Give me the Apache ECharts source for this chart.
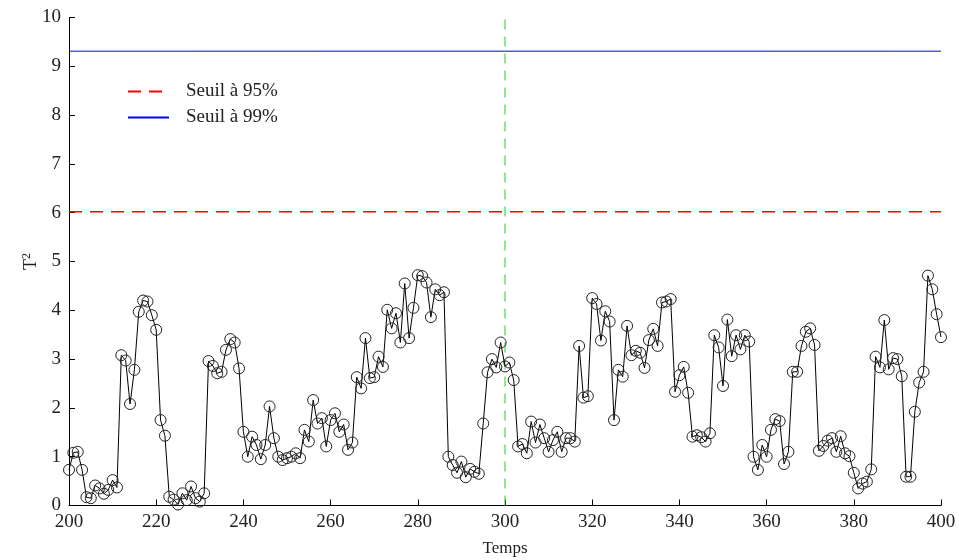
<!DOCTYPE html>
<html>
<head>
<meta charset="utf-8">
<script src="https://cdn.jsdelivr.net/npm/echarts@6/dist/echarts.min.js"></script>
<style>
html,body{margin:0;padding:0;background:#fff;}
#chart{width:959px;height:560px;}
</style>
</head>
<body>
<div id="chart"></div>
<script>
// Sample indices start at 200, one sample per unit of time
const firstSample = 200;
const t2Values = [
  0.73, 1.08, 1.10, 0.73, 0.17, 0.15, 0.41, 0.35, 0.24, 0.32,
  0.52, 0.37, 3.08, 2.97, 2.08, 2.78, 3.97, 4.20, 4.18, 3.90,
  3.60, 1.75, 1.43, 0.18, 0.12, 0.02, 0.25, 0.11, 0.39, 0.15,
  0.08, 0.25, 2.96, 2.86, 2.71, 2.74, 3.19, 3.41, 3.34, 2.81,
  1.51, 1.00, 1.41, 1.24, 0.95, 1.24, 2.03, 1.38, 1.00, 0.93,
  0.97, 1.00, 1.07, 0.97, 1.55, 1.31, 2.16, 1.68, 1.79, 1.21,
  1.75, 1.89, 1.51, 1.66, 1.14, 1.29, 2.63, 2.40, 3.43, 2.61,
  2.63, 3.05, 2.84, 4.01, 3.63, 3.94, 3.34, 4.55, 3.43, 4.05,
  4.72, 4.70, 4.57, 3.86, 4.43, 4.31, 4.37, 1.00, 0.83, 0.67,
  0.90, 0.58, 0.75, 0.69, 0.65, 1.68, 2.73, 3.00, 2.83, 3.34,
  2.85, 2.93, 2.57, 1.21, 1.26, 1.07, 1.72, 1.29, 1.66, 1.38,
  1.10, 1.34, 1.51, 1.10, 1.38, 1.38, 1.31, 3.27, 2.21, 2.24,
  4.25, 4.13, 3.38, 3.98, 3.77, 1.75, 2.78, 2.64, 3.68, 3.08,
  3.17, 3.13, 2.82, 3.39, 3.62, 3.27, 4.16, 4.18, 4.23, 2.33,
  2.67, 2.84, 2.31, 1.41, 1.44, 1.40, 1.31, 1.48, 3.49, 3.24,
  2.45, 3.81, 3.06, 3.49, 3.20, 3.49, 3.36, 1.00, 0.73, 1.24,
  1.00, 1.55, 1.77, 1.73, 0.85, 1.10, 2.74, 2.74, 3.27, 3.56,
  3.63, 3.29, 1.12, 1.22, 1.33, 1.38, 1.10, 1.42, 1.07, 1.01,
  0.67, 0.35, 0.45, 0.49, 0.74, 3.05, 2.83, 3.80, 2.79, 3.02,
  3.00, 2.65, 0.59, 0.59, 1.92, 2.52, 2.74, 4.71, 4.43, 3.92,
  3.45
];
const xRange = [200, 400];
const yRange = [0, 10];
const seuil95 = 6.02;
const seuil99 = 9.31;
const changePoint = 300;
const legendNames = ['Seuil à 95%', 'Seuil à 99%'];
const xTitle = 'Temps';

const fontFam = '"Liberation Serif", "DejaVu Serif", serif';
const chart = echarts.init(document.getElementById('chart'));
const t2Data = t2Values.map((v, i) => [firstSample + i, v]);

chart.setOption({
  animation: false,
  backgroundColor: '#ffffff',
  grid: { left: 69, right: 18, top: 17.5, bottom: 54.5, containLabel: false, outerBoundsMode: 'none' },
  legend: {
    data: legendNames,
    orient: 'vertical',
    left: 122,
    top: 77,
    itemWidth: 41,
    itemHeight: 14,
    itemGap: 7,
    itemStyle: { opacity: 0 },
    textStyle: { fontFamily: fontFam, fontSize: 19, color: '#222', padding: [0, 0, 0, 12] }
  },
  xAxis: {
    type: 'value',
    min: xRange[0], max: xRange[1], interval: 20,
    name: xTitle,
    nameLocation: 'middle',
    nameGap: 35,
    nameMoveOverlap: false,
    nameTextStyle: { fontFamily: fontFam, fontSize: 17, color: '#222' },
    axisLine: { lineStyle: { color: '#000', width: 1 } },
    axisTick: { inside: true, length: 6, lineStyle: { color: '#000' } },
    axisLabel: { fontFamily: fontFam, fontSize: 19, color: '#222', margin: 7 },
    splitLine: { show: false }
  },
  yAxis: {
    type: 'value',
    min: yRange[0], max: yRange[1], interval: 1,
    name: 'T{sup|2}',
    nameLocation: 'middle',
    nameGap: 28,
    nameMoveOverlap: false,
    nameRotate: 90,
    nameTextStyle: {
      fontFamily: fontFam, fontSize: 18, color: '#222',
      rich: { sup: { fontFamily: fontFam, fontSize: 12, color: '#222', verticalAlign: 'top', padding: [0, 0, 8, 0] } }
    },
    axisLine: { show: true, lineStyle: { color: '#000', width: 1 } },
    axisTick: { show: true, inside: true, length: 6, lineStyle: { color: '#000' } },
    axisLabel: { fontFamily: fontFam, fontSize: 19, color: '#222', margin: 8 },
    splitLine: { show: false }
  },
  series: [
    {
      name: legendNames[0],
      type: 'line',
      symbol: 'none',
      data: [[xRange[0], seuil95], [xRange[1], seuil95]],
      lineStyle: { color: '#ff0000', width: 1.5, type: [13, 8] },
      itemStyle: { color: '#ff0000' },
      z: 2
    },
    {
      name: legendNames[1],
      type: 'line',
      symbol: 'none',
      data: [[xRange[0], seuil99], [xRange[1], seuil99]],
      lineStyle: { color: '#0000ff', width: 1 },
      itemStyle: { color: '#0000ff' },
      z: 2
    },
    {
      name: 'change',
      type: 'line',
      symbol: 'none',
      data: [[changePoint, yRange[0]], [changePoint, yRange[1]]],
      lineStyle: { color: '#22cc22', width: 1, type: [10, 7] },
      z: 2
    },
    {
      name: 'T2',
      type: 'line',
      data: t2Data,
      symbol: 'circle',
      symbolSize: 11,
      showAllSymbol: true,
      lineStyle: { color: '#000', width: 1 },
      itemStyle: { color: 'rgba(0,0,0,0)', borderColor: '#222', borderWidth: 1 },
      z: 3
    }
  ]
});
</script>
</body>
</html>
